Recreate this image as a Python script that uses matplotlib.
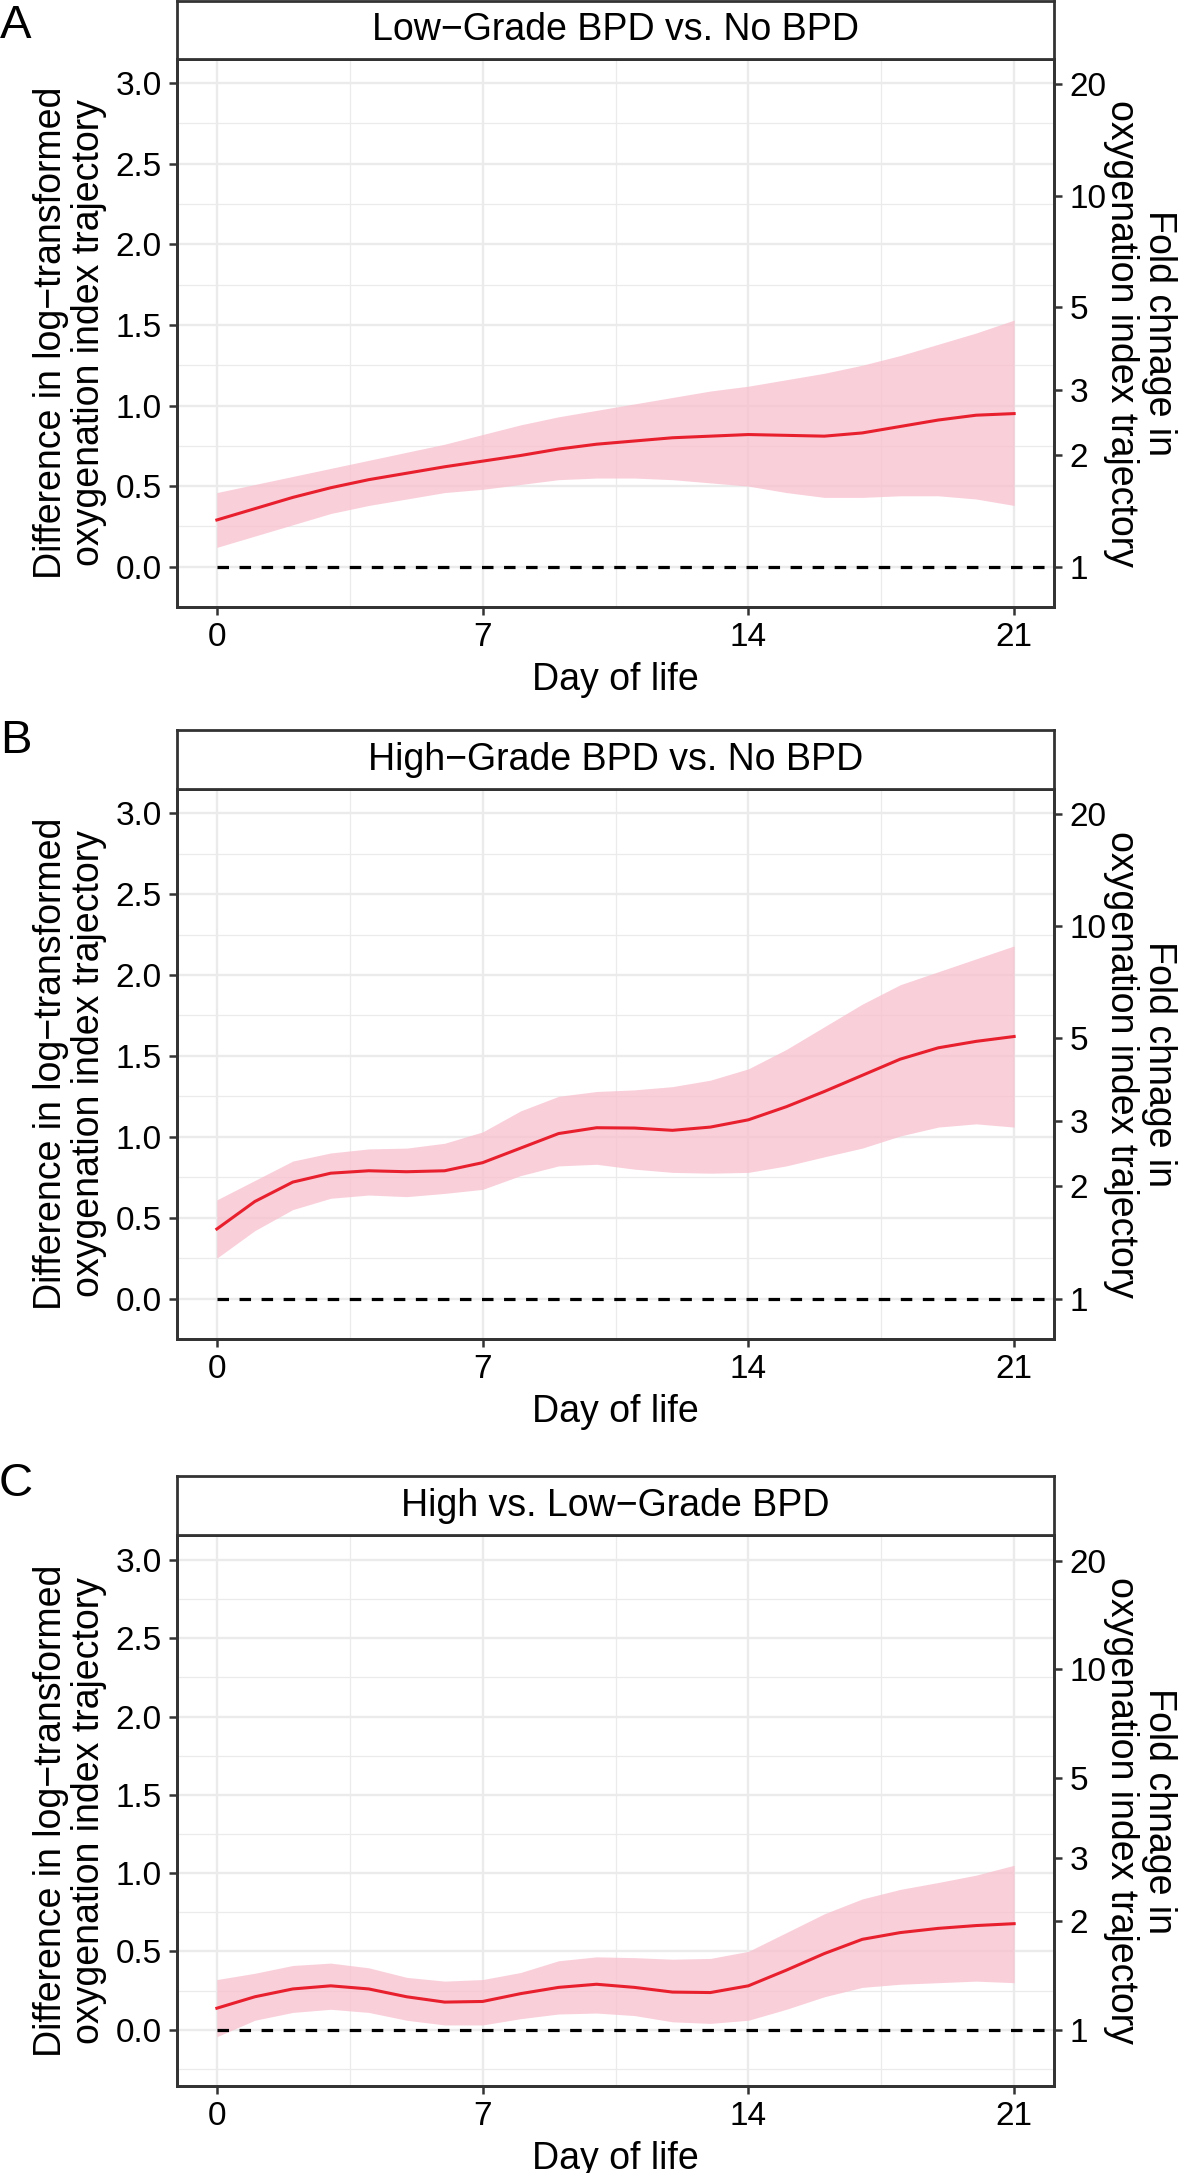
import numpy as np
from matplotlib import pyplot as plt

plt.rcParams['font.family'] = ['Liberation Sans', 'DejaVu Sans']

border = "#333333"
grid_col = "#EBEBEB"
line_col = "#E8202E"
ribbon_col = "#F8BFCE"

days = list(range(22))

titles = ["Low\u2212Grade BPD vs. No BPD",
          "High\u2212Grade BPD vs. No BPD",
          "High vs. Low\u2212Grade BPD"]
letters = ["A", "B", "C"]

# panel A: low-grade vs no BPD
fit_a = [0.29, 0.36, 0.43, 0.49, 0.54, 0.58, 0.62, 0.655, 0.69, 0.73, 0.76,
         0.78, 0.80, 0.81, 0.82, 0.815, 0.81, 0.83, 0.87, 0.91, 0.94, 0.95]
upr_a = [0.46, 0.51, 0.56, 0.61, 0.66, 0.71, 0.76, 0.82, 0.88, 0.93, 0.97,
         1.01, 1.05, 1.09, 1.12, 1.16, 1.20, 1.25, 1.31, 1.38, 1.45, 1.53]
lwr_a = [0.12, 0.19, 0.26, 0.33, 0.38, 0.42, 0.46, 0.48, 0.51, 0.54, 0.55,
         0.55, 0.54, 0.52, 0.50, 0.46, 0.43, 0.43, 0.44, 0.44, 0.42, 0.38]

# panel B: high-grade vs no BPD
fit_b = [0.43, 0.60, 0.72, 0.775, 0.79, 0.784, 0.79, 0.84, 0.93, 1.02, 1.056,
         1.054, 1.04, 1.06, 1.105, 1.186, 1.28, 1.38, 1.48, 1.55, 1.59, 1.62]
upr_b = [0.61, 0.73, 0.85, 0.90, 0.925, 0.93, 0.96, 1.03, 1.16, 1.25, 1.28,
         1.29, 1.31, 1.35, 1.42, 1.54, 1.68, 1.82, 1.94, 2.02, 2.10, 2.18]
lwr_b = [0.25, 0.42, 0.55, 0.62, 0.64, 0.63, 0.65, 0.675, 0.76, 0.82, 0.83,
         0.80, 0.78, 0.775, 0.78, 0.82, 0.876, 0.93, 1.005, 1.06, 1.08, 1.06]

# panel C: high vs low-grade BPD
fit_c = [0.137, 0.21, 0.26, 0.28, 0.26, 0.21, 0.176, 0.18, 0.23, 0.27, 0.29,
         0.27, 0.24, 0.237, 0.28, 0.38, 0.486, 0.577, 0.62, 0.647, 0.665, 0.677]
upr_c = [0.32, 0.36, 0.41, 0.425, 0.395, 0.334, 0.31, 0.32, 0.365, 0.44, 0.465,
         0.46, 0.45, 0.455, 0.50, 0.62, 0.74, 0.835, 0.896, 0.94, 0.987, 1.05]
lwr_c = [-0.045, 0.06, 0.11, 0.13, 0.11, 0.06, 0.03, 0.03, 0.07, 0.10, 0.106,
         0.09, 0.05, 0.04, 0.06, 0.13, 0.21, 0.27, 0.29, 0.30, 0.31, 0.30]

fits = [fit_a, fit_b, fit_c]
uprs = [upr_a, upr_b, upr_c]
lwrs = [lwr_a, lwr_b, lwr_c]

ylims = [(-0.15, 3.15), (-0.15, 3.15), (-0.36, 3.16)]

x_major = [0, 7, 14, 21]
x_minor = [3.5, 10.5, 17.5]
y_major = [0.0, 0.5, 1.0, 1.5, 2.0, 2.5, 3.0]
y_minor = [-0.25, 0.25, 0.75, 1.25, 1.75, 2.25, 2.75]
fold_ticks = [1, 2, 3, 5, 10, 20]

left_title = "Difference in log\u2212transformed\noxygenation index trajectory"
right_title = "Fold chnage in\noxygenation index trajectory"

W, H = 1181, 2173
ax_left, ax_right = 177, 1054
# (strip top, axes top, axes bottom, letter y) in pixels from top
rows = [(1, 59, 607, 26), (730, 789, 1339, 741), (1476, 1535, 2086, 1484)]

tick_size = 24
title_size = 27


def fx(px):
    return px / W


def fy(py):
    return 1 - py / H


def draw_panel(fig, i):
    s_top, a_top, a_bot, let_y = rows[i]
    ax = fig.add_axes([fx(ax_left), fy(a_bot), fx(ax_right - ax_left), (a_bot - a_top) / H])
    ax.set_xlim(-1.05, 22.05)
    ax.set_ylim(*ylims[i])

    ax.set_xticks(x_major)
    ax.set_xticks(x_minor, minor=True)
    ax.set_yticks(y_major)
    ax.set_yticks(y_minor, minor=True)
    ax.set_yticklabels(["%.1f" % v for v in y_major])
    ax.grid(True, which="major", color=grid_col, linewidth=1.7)
    ax.grid(True, which="minor", color=grid_col, linewidth=0.9)
    ax.set_axisbelow(True)
    ax.tick_params(which="major", length=6, width=1.8, color=border, labelsize=tick_size,
                   pad=5, labelcolor="black")
    ax.tick_params(which="minor", length=0)
    for sp in ax.spines.values():
        sp.set_color(border)
        sp.set_linewidth(2.0)

    ax.fill_between(days, lwrs[i], uprs[i], color=ribbon_col, alpha=0.75, linewidth=0, zorder=2)
    ax.plot(days, fits[i], color=line_col, linewidth=2.2, zorder=3)
    ax.plot([days[0], ax.get_xlim()[1]], [0, 0], color="black", linewidth=2.3,
            linestyle=(0, (3.6, 3.3)), zorder=4)

    ax.set_xlabel("Day of life", fontsize=title_size, labelpad=6)

    ax2 = ax.twinx()
    ax2.set_ylim(ax.get_ylim())
    ax2.set_yticks(np.log(fold_ticks))
    ax2.set_yticklabels([str(v) for v in fold_ticks])
    ax2.tick_params(length=6, width=1.8, color=border, labelsize=tick_size, pad=5)
    for sp in ax2.spines.values():
        sp.set_color(border)
        sp.set_linewidth(2.0)

    # strip on top
    st = fig.add_axes([fx(ax_left), fy(a_top), fx(ax_right - ax_left), (a_top - s_top) / H])
    st.set_xticks([])
    st.set_yticks([])
    for sp in st.spines.values():
        sp.set_color(border)
        sp.set_linewidth(2.0)
    st.text(0.5, 0.5, titles[i], ha="center", va="center", fontsize=title_size,
            transform=st.transAxes)

    mid = (a_top + a_bot) / 2
    fig.text(fx(70), fy(mid), left_title, rotation=90, ha="center", va="center",
             fontsize=title_size, multialignment="center", linespacing=1.05)
    fig.text(fx(1140), fy(mid), right_title, rotation=270, ha="center", va="center",
             fontsize=title_size, multialignment="center", linespacing=1.05)
    fig.text(fx(16), fy(let_y), letters[i], ha="center", va="center", fontsize=34)


if __name__ == "__main__":
    fig = plt.figure(figsize=(W / 100, H / 100), dpi=100)
    for i in range(3):
        draw_panel(fig, i)
    fig.savefig("out.png", dpi=100)
